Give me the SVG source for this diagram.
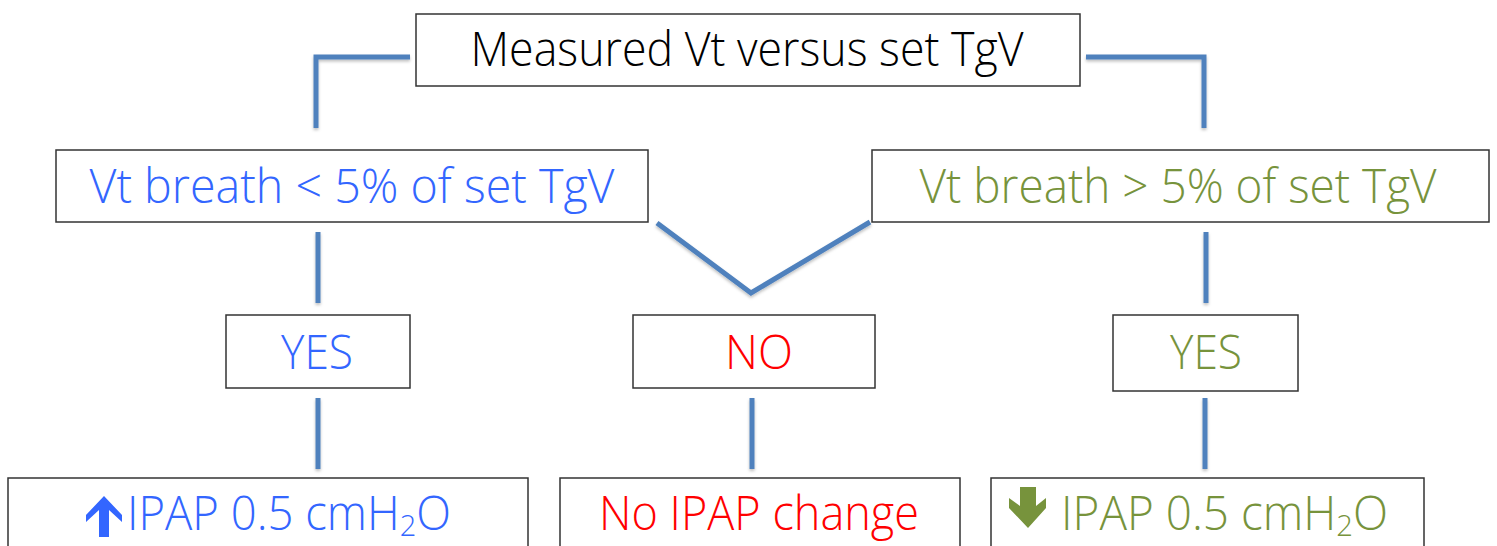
<svg xmlns="http://www.w3.org/2000/svg" width="1497" height="546" viewBox="0 0 1497 546">
<style>
.box{fill:#fff;stroke:#333;stroke-width:1.5}
.t{font-family:"Open Sans","Liberation Sans",sans-serif;font-weight:300;font-size:47px;text-anchor:middle}
.blk{fill:#000}.blu{fill:#3366ff}.grn{fill:#77933c}.red{fill:#ff0000}
.c{fill:none;stroke:#4f81bd;stroke-width:5}
</style>
<defs>
<filter id="sh" filterUnits="userSpaceOnUse" x="0" y="0" width="1497" height="546"><feDropShadow dx="0" dy="2" stdDeviation="1.5" flood-color="#000" flood-opacity="0.25"/></filter>
</defs>
<rect width="1497" height="546" fill="#fff"/>
<g id="connectors" filter="url(#sh)">
<polyline class="c" points="410,57 316,57 316,128"/>
<polyline class="c" points="1086,57 1204,57 1204,128"/>
<polyline class="c" points="657,223 751,293 870,222"/>
<line class="c" x1="318" y1="232" x2="318" y2="303"/>
<line class="c" x1="1206" y1="232" x2="1206" y2="303"/>
<line class="c" x1="318" y1="398" x2="318" y2="469"/>
<line class="c" x1="752" y1="398" x2="752" y2="469"/>
<line class="c" x1="1205" y1="398" x2="1205" y2="469"/>
</g>
<g id="top">
<rect class="box" x="416" y="14" width="664" height="72"/>
<text class="t blk" x="747" y="66" textLength="553" lengthAdjust="spacingAndGlyphs">Measured Vt versus set TgV</text>
</g>
<g id="left">
<rect class="box" x="56" y="150" width="592" height="72"/>
<text class="t blu" x="352" y="203" textLength="525" lengthAdjust="spacingAndGlyphs">Vt breath &lt; 5% of set TgV</text>
</g>
<g id="right">
<rect class="box" x="872" y="150" width="617" height="72"/>
<text class="t grn" x="1178" y="203" textLength="517" lengthAdjust="spacingAndGlyphs">Vt breath &gt; 5% of set TgV</text>
</g>
<g id="yes-left">
<rect class="box" x="226" y="315" width="184" height="73"/>
<text class="t blu" x="317" y="369" textLength="72" lengthAdjust="spacingAndGlyphs">YES</text>
</g>
<g id="no">
<rect class="box" x="633" y="315" width="242" height="73"/>
<text class="t red" x="759" y="369" textLength="68" lengthAdjust="spacingAndGlyphs">NO</text>
</g>
<g id="yes-right">
<rect class="box" x="1113" y="315" width="185" height="76"/>
<text class="t grn" x="1206" y="369" textLength="72" lengthAdjust="spacingAndGlyphs">YES</text>
</g>
<g id="up-ipap">
<rect class="box" x="8" y="478" width="520" height="90"/>
<polygon fill="#3366ff" points="104,496 122,515 122,522 109,510 109,537 99,537 99,510 86,522 86,515"/>
<text class="t blu" x="127" y="530" style="text-anchor:start" textLength="324" lengthAdjust="spacingAndGlyphs">IPAP 0.5 cmH<tspan font-size="30" dy="6">2</tspan><tspan dy="-6">O</tspan></text>
</g>
<g id="no-change">
<rect class="box" x="560" y="478" width="400" height="90"/>
<text class="t red" x="759" y="530" textLength="320" lengthAdjust="spacingAndGlyphs">No IPAP change</text>
</g>
<g id="down-ipap">
<rect class="box" x="991" y="478" width="433" height="90"/>
<polygon fill="#77933c" points="1020,487 1036,487 1036,506 1046,498 1046,508 1028,528 1009,508 1009,498 1020,506"/>
<text class="t grn" x="1061" y="530" style="text-anchor:start" textLength="327" lengthAdjust="spacingAndGlyphs">IPAP 0.5 cmH<tspan font-size="30" dy="6">2</tspan><tspan dy="-6">O</tspan></text>
</g>
</svg>
